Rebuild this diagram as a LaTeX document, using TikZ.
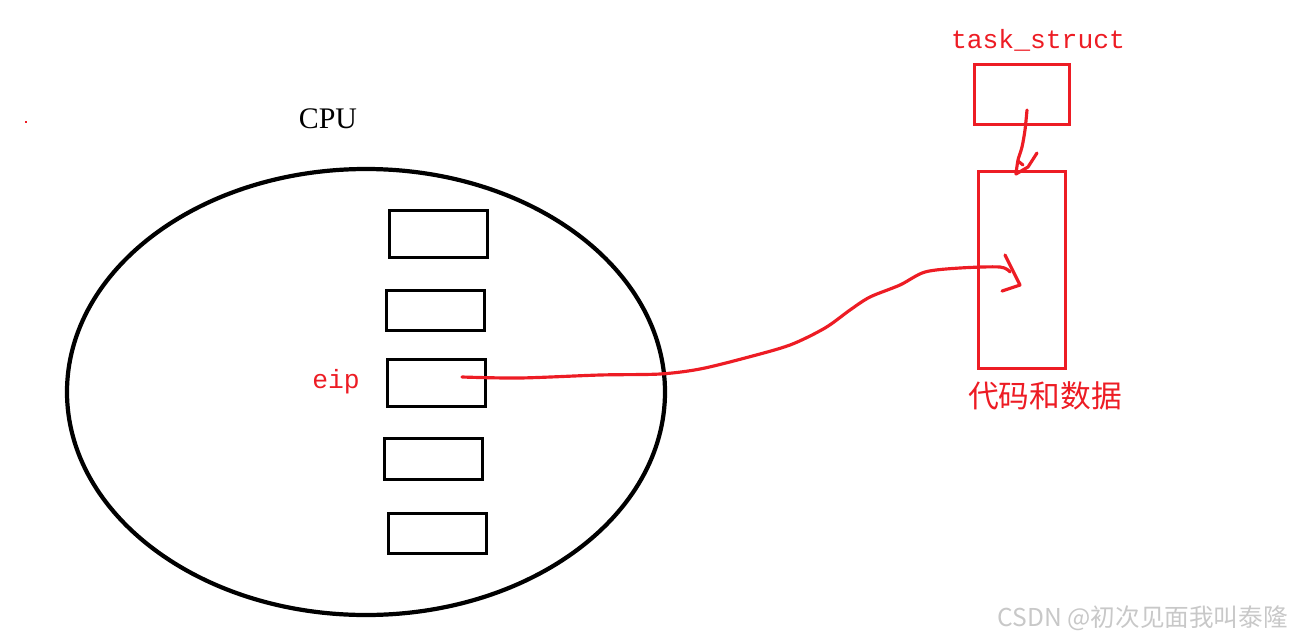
\documentclass[tikz,border=0pt]{standalone}
\usepackage{fontspec}
\setmainfont{Liberation Serif}
\setmonofont{Liberation Mono}
\newfontfamily\cjk{Noto Sans CJK SC}
\usetikzlibrary{shapes.geometric}
\definecolor{paintred}{RGB}{237,28,36}
\definecolor{markgray}{RGB}{200,200,200}

\begin{document}
\begin{tikzpicture}[
    reg/.style={draw, line width=1.9pt, inner sep=0pt, minimum width=1.96cm},
    redbox/.style={draw=paintred, line width=1.8pt, inner sep=0pt},
    redpen/.style={paintred, line width=1.8pt, line cap=round, line join=round},
    redtext/.style={text=paintred, font=\ttfamily\fontsize{15}{16}\selectfont}
  ]
    \useasboundingbox (0,0) rectangle (25.94,-12.78);

    % CPU and its registers
    \node[ellipse, draw, line width=2.4pt, inner sep=0pt, minimum width=11.96cm, minimum height=8.92cm] (cpu) at (7.32,-7.84) {};
    \node at (6.56,-2.38) (cpulabel) {\fontsize{17}{19}\selectfont CPU};
    \node[reg, minimum height=0.94cm] (reg1) at (8.77,-4.68) {};
    \node[reg, minimum height=0.8cm]  (reg2) at (8.71,-6.21) {};
    \node[reg, minimum height=0.94cm] (reg3) at (8.73,-7.66) {};
    \node[reg, minimum height=0.82cm] (reg4) at (8.67,-9.18) {};
    \node[reg, minimum height=0.8cm]  (reg5) at (8.75,-10.67) {};
    \node[redtext] (eip) at (6.72,-7.64) {eip};

    % task_struct and its code/data
    \node[redtext] (tasklabel) at (20.76,-0.8) {task\_struct};
    \node[redbox, minimum width=1.9cm, minimum height=1.2cm] (task) at (20.44,-1.89) {};
    \node[redbox, minimum width=1.74cm, minimum height=3.94cm] (data) at (20.44,-5.4) {};
    \node[text=paintred, font=\cjk\fontsize{17.5}{20}\selectfont] (datalabel) at (20.9,-7.92) {代码和数据};

    \coordinate (tasksrc) at (20.54,-2.2);
    \coordinate (datatop) at (20.32,-3.48);
    \coordinate (eipsrc) at (9.24,-7.54);
    \coordinate (datadst) at (20.4,-5.7);

    % hand drawn arrows
    \draw[redpen] plot[smooth, tension=.5] coordinates {(tasksrc) (20.5,-2.6) (20.44,-2.94) (20.36,-3.2) (datatop)};
    \draw[redpen] (20.74,-3.06) -- (20.56,-3.34) -- (datatop) (20.36,-3.22) -- (20.46,-3.3);

    \draw[redpen] plot[smooth, tension=.5] coordinates {(eipsrc) (10.4,-7.56) (12,-7.5) (13.2,-7.48) (14,-7.38) (14.9,-7.16) (15.8,-6.9) (16.5,-6.56) (17,-6.2) (17.4,-5.94) (18,-5.7) (18.5,-5.44) (19.2,-5.36) (20,-5.34) (20.2,-5.44)};
    \draw[redpen] (20.1,-5.1) -- (datadst) -- (20.04,-5.82);

    % stray dot
    \fill[paintred] (0.5,-2.42) rectangle (0.54,-2.46);

    \node[anchor=east, text=markgray, font=\cjk\fontsize{14}{16}\selectfont] (mark) at (25.88,-12.36) {CSDN @初次见面我叫泰隆};
\end{tikzpicture}
\end{document}
